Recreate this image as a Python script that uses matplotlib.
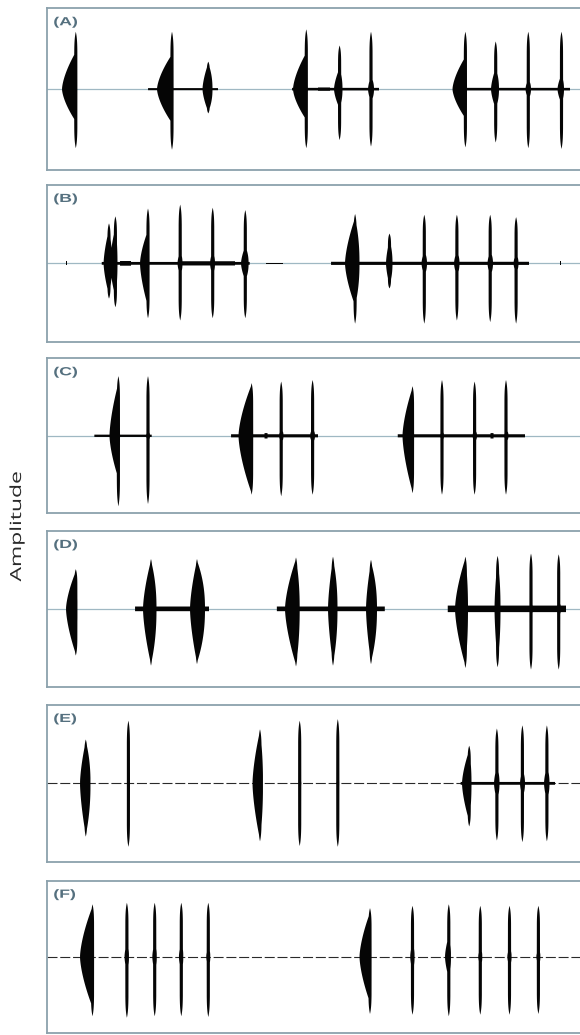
import numpy as np
import matplotlib
matplotlib.use("Agg")
import matplotlib.pyplot as plt
from matplotlib.patheffects import AbstractPathEffect
from matplotlib.transforms import Affine2D

# ---------------- data ----------------
# each pulse: (spike_x, spike_top, spike_bottom, body_start, body_end, body_top, body_bottom)
panel_labels = ["(A)", "(B)", "(C)", "(D)", "(E)", "(F)"]

pulses_A = [(75.8, 0.71, 0.73, 62.0, 77.0, 0.46, 0.40),
            (172.0, 0.71, 0.75, 157.0, 173.5, 0.43, 0.42),
            (208.3, 0.34, 0.30, 202.5, 212.5, 0.32, 0.28),
            (306.3, 0.74, 0.73, 293.0, 307.5, 0.45, 0.38),
            (339.6, 0.54, 0.63, 334.0, 342.5, 0.26, 0.24),
            (371.0, 0.71, 0.71, 368.0, 374.0, 0.16, 0.16),
            (465.4, 0.71, 0.72, 452.5, 466.5, 0.40, 0.36),
            (495.7, 0.59, 0.66, 491.0, 499.0, 0.26, 0.24),
            (528.3, 0.71, 0.73, 525.5, 531.0, 0.13, 0.13),
            (561.5, 0.71, 0.74, 557.5, 564.0, 0.18, 0.18)]
noise_A = [(148, 218, 0.013), (292, 379, 0.016), (453, 570, 0.016),
           (318, 330, 0.021)]

pulses_B = [(109.0, 0.51, 0.45, 103.6, 112.0, 0.43, 0.40),
            (115.4, 0.60, 0.56, 110.0, 117.5, 0.46, 0.43),
            (148.0, 0.70, 0.70, 140.0, 149.5, 0.42, 0.55),
            (180.2, 0.75, 0.73, 177.5, 182.5, 0.16, 0.16),
            (212.7, 0.71, 0.70, 210.0, 215.0, 0.16, 0.16),
            (245.3, 0.68, 0.70, 241.0, 248.6, 0.22, 0.22),
            (355.1, 0.63, 0.77, 345.0, 359.5, 0.58, 0.54),
            (389.5, 0.38, 0.32, 386.0, 392.5, 0.30, 0.28),
            (424.3, 0.62, 0.77, 421.5, 427.0, 0.16, 0.16),
            (456.9, 0.62, 0.73, 454.0, 459.5, 0.16, 0.16),
            (490.2, 0.62, 0.75, 487.5, 493.0, 0.16, 0.16),
            (516.1, 0.59, 0.77, 513.5, 518.5, 0.13, 0.13)]
noise_B = [(101.7, 249.7, 0.018), (180, 235, 0.027), (120, 131, 0.03),
           (331, 529, 0.02), (65.5, 67.5, 0.025), (559.5, 561.5, 0.025), (266, 283, 0.007)]

pulses_C = [(118.4, 0.77, 0.91, 109.5, 119.0, 0.68, 0.55),
            (148.0, 0.77, 0.88, 146.0, 150.0, 0.09, 0.09),
            (251.6, 0.68, 0.76, 238.5, 252.8, 0.66, 0.74),
            (281.2, 0.70, 0.78, 279.0, 283.5, 0.10, 0.10),
            (312.6, 0.72, 0.76, 310.0, 315.0, 0.10, 0.10),
            (412.5, 0.64, 0.74, 402.5, 413.5, 0.62, 0.72),
            (442.0, 0.72, 0.76, 440.0, 444.0, 0.09, 0.09),
            (474.6, 0.70, 0.76, 472.5, 477.0, 0.09, 0.09),
            (506.0, 0.72, 0.76, 504.0, 508.5, 0.09, 0.09)]
noise_C = [(94.3, 151.7, 0.015), (231, 318, 0.02), (397.7, 525, 0.02),
           (264.5, 267.5, 0.035), (490.5, 493.5, 0.035)]

pulses_D = [(75.8, 0.51, 0.60, 66.0, 77.5, 0.48, 0.58),
            (151.0, 0.64, 0.73, 143.0, 156.5, 0.62, 0.71),
            (197.0, 0.64, 0.71, 190.0, 205.0, 0.62, 0.69),
            (296.0, 0.66, 0.74, 285.0, 299.7, 0.64, 0.72),
            (333.0, 0.67, 0.73, 328.0, 337.5, 0.64, 0.70),
            (371.0, 0.63, 0.71, 366.0, 377.0, 0.60, 0.68),
            (465.4, 0.67, 0.76, 455.0, 468.0, 0.65, 0.73),
            (497.6, 0.68, 0.75, 494.5, 500.5, 0.64, 0.70),
            (531.0, 0.71, 0.78, 529.0, 533.0, 0.11, 0.11),
            (558.7, 0.70, 0.78, 556.5, 561.0, 0.11, 0.11)]
noise_D = [(135, 209, 0.03), (276.8, 384.8, 0.03), (447.7, 566, 0.042)]

pulses_E = [(85.8, 0.56, 0.68, 80.0, 90.5, 0.54, 0.66),
            (128.4, 0.80, 0.81, 127.0, 130.0, 0.05, 0.05),
            (260.0, 0.69, 0.74, 252.5, 263.0, 0.67, 0.72),
            (299.7, 0.80, 0.80, 298.0, 301.5, 0.05, 0.05),
            (337.8, 0.82, 0.81, 336.0, 339.5, 0.05, 0.05),
            (469.2, 0.48, 0.55, 462.0, 471.5, 0.42, 0.48),
            (496.9, 0.70, 0.73, 494.0, 499.5, 0.22, 0.22),
            (522.4, 0.74, 0.75, 520.0, 525.0, 0.18, 0.18),
            (546.9, 0.74, 0.74, 544.0, 549.5, 0.22, 0.22)]
noise_E = [(460.6, 555, 0.018)]

pulses_F = [(92.5, 0.69, 0.78, 80.0, 93.8, 0.66, 0.66),
            (126.9, 0.71, 0.80, 124.5, 129.0, 0.20, 0.20),
            (154.7, 0.71, 0.78, 152.3, 156.8, 0.20, 0.20),
            (181.3, 0.71, 0.78, 178.9, 183.3, 0.20, 0.20),
            (208.3, 0.71, 0.79, 206.2, 210.3, 0.15, 0.15),
            (370.0, 0.64, 0.75, 359.5, 371.5, 0.58, 0.60),
            (412.5, 0.67, 0.76, 410.2, 414.6, 0.20, 0.20),
            (448.8, 0.69, 0.78, 445.0, 451.0, 0.28, 0.28),
            (480.3, 0.67, 0.76, 478.2, 482.3, 0.14, 0.14),
            (509.5, 0.67, 0.76, 507.3, 511.6, 0.14, 0.14),
            (538.4, 0.67, 0.75, 536.3, 540.4, 0.12, 0.12)]
noise_F = []

all_pulses = [pulses_A, pulses_B, pulses_C, pulses_D, pulses_E, pulses_F]
all_noise = [noise_A, noise_B, noise_C, noise_D, noise_E, noise_F]
y_label = "Amplitude"

# ---------------- layout / style ----------------
W, H = 580, 1035
panel_tops = [8.3, 185.0, 358.3, 531.0, 705.0, 880.7]
panel_bottoms = [170.0, 341.7, 513.3, 686.7, 861.7, 1033.0]
x_left, x_right = 47.0, 640.0
spine_color = "#8ba1ac"
label_color = "#55707f"
wave_color = "#050505"


class Stretch(AbstractPathEffect):
    """Stretch text glyphs along their own baseline direction."""
    def __init__(self, sx=1.0, sy=1.0):
        super().__init__()
        self.sx, self.sy = sx, sy

    def draw_path(self, renderer, gc, tpath, affine, rgbFace=None):
        renderer.draw_path(gc, tpath, Affine2D().scale(self.sx, self.sy) + affine, rgbFace)


def envelopes(xg, pulses, noise):
    up = np.zeros_like(xg)
    dn = np.zeros_like(xg)
    for xs, st, sb, x0, x1, bt, bb in pulses:
        s = np.clip(1 - np.abs(xg - xs) / 1.6, 0, 1) ** 0.12
        up = np.maximum(up, st * s)
        dn = np.maximum(dn, sb * s)
        b = np.zeros_like(xg)
        left = (xg >= x0) & (xg <= xs)
        b[left] = ((xg[left] - x0) / max(xs - x0, 1e-6)) ** 0.65
        right = (xg > xs) & (xg <= x1)
        b[right] = ((x1 - xg[right]) / max(x1 - xs, 1e-6)) ** 0.45
        up = np.maximum(up, bt * b)
        dn = np.maximum(dn, bb * b)
    for a, c, amp in noise:
        m = (xg >= a) & (xg <= c)
        up[m] = np.maximum(up[m], amp)
        dn[m] = np.maximum(dn[m], amp)
    return up, -dn


fig = plt.figure(figsize=(W / 100, H / 100), dpi=100)
xg = np.arange(x_left, x_right, 0.05)

for i in range(6):
    t, b = panel_tops[i], panel_bottoms[i]
    ax = fig.add_axes([x_left / W, 1 - b / H, (x_right - x_left) / W, (b - t) / H])
    ax.set_xlim(x_left, x_right)
    ax.set_ylim(-1, 1)
    ax.set_xticks([])
    ax.set_yticks([])
    for sp in ax.spines.values():
        sp.set_color(spine_color)
        sp.set_linewidth(1.3)
    if i < 4:
        ax.axhline(0, color="#9fb8c3", lw=0.9, zorder=1)
    else:
        ax.axhline(0, color="#2a2a2a", lw=0.8, ls=(0, (9, 2.5)), zorder=1)
    up, lo = envelopes(xg, all_pulses[i], all_noise[i])
    ax.fill_between(xg, lo, up, where=(up - lo) > 0.001, facecolor=wave_color,
                    edgecolor="none", lw=0, zorder=2)
    txt = fig.text(53.3 / W, 1 - (t + 8.0) / H, panel_labels[i], ha="left", va="top",
                   fontsize=8.5, fontweight="bold", color=label_color,
                   family="Liberation Sans")
    txt.set_path_effects([Stretch(1.5, 1.0)])

yl = fig.text(17.5 / W, 1 - 581.5 / H, y_label, rotation=90, ha="center", va="bottom",
              fontsize=11, color="#2b2b2b", family="Open Sans")
yl.set_path_effects([Stretch(1.5, 1.0)])

fig.savefig("out.png", dpi=100, facecolor="white")
